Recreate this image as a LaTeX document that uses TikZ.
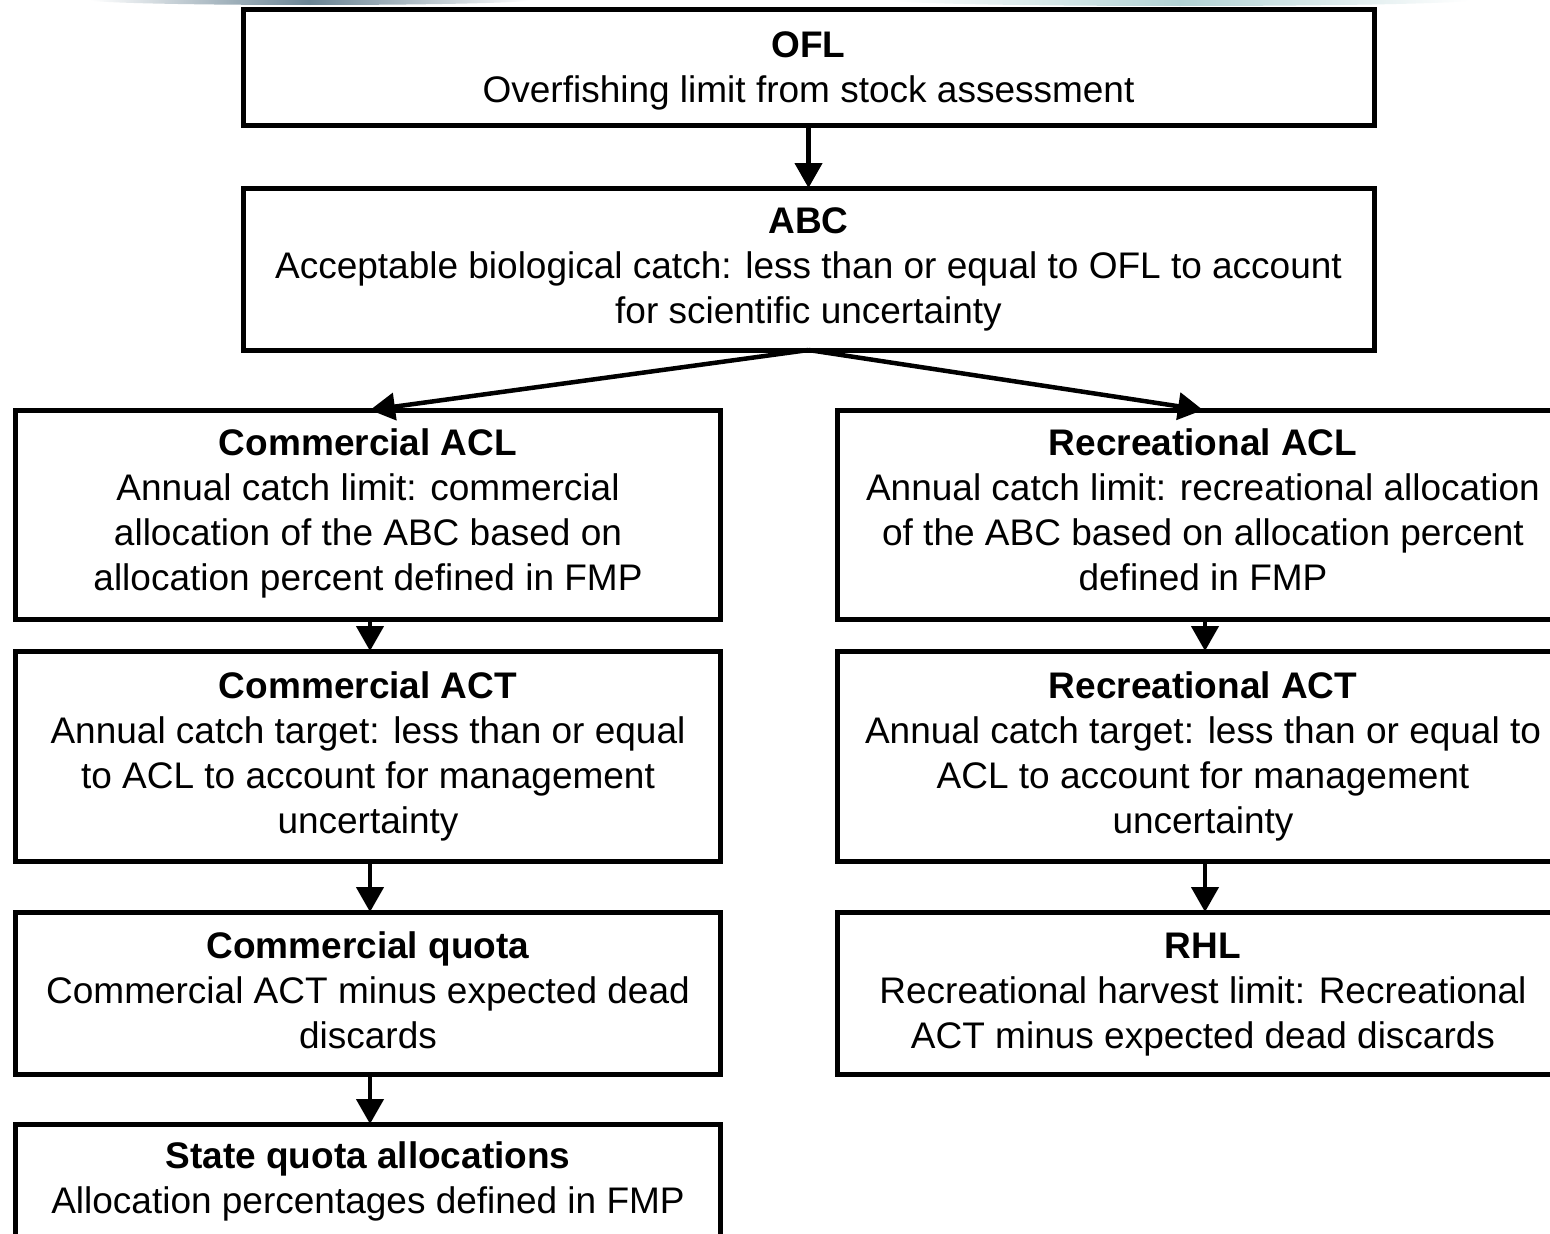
\documentclass[tikz,border=0pt]{standalone}
\usepackage{fontspec}
\setmainfont{Liberation Sans}
\usetikzlibrary{arrows.meta}

\definecolor{bandslate}{HTML}{6A8494}
\definecolor{bandteal}{HTML}{B2D2D4}

\tikzset{
  box/.style={draw=black, line width=5pt, fill=white, rectangle},
  boxtext/.style={align=center, inner sep=0pt, anchor=north,
    font=\fontsize{37}{45}\selectfont},
  flow/.style={line width=4.5pt, -{Triangle[length=25pt, width=27pt]}},
}

\begin{document}
\begin{tikzpicture}[x=1pt, y=-1pt]
  % page frame
  \useasboundingbox (0,0) rectangle (1550,1234);
  \fill[white] (0,0) rectangle (1550,1234);

  % soft header bands along the top edge
  \begin{scope}
    \clip (310,0) ellipse [x radius=220, y radius=5];
    \shade[left color=white, right color=white, middle color=bandslate] (90,-6) rectangle (530,6);
  \end{scope}
  \begin{scope}
    \clip (1180,0) ellipse [x radius=290, y radius=6];
    \shade[left color=white, right color=white, middle color=bandteal] (890,-6) rectangle (1470,7);
  \end{scope}

  % boxes (border centre lines)
  \draw[box] (243,9) rectangle (1374,125);
  \draw[box] (243,188) rectangle (1374,350);
  \draw[box] (15,410) rectangle (720,619);
  \draw[box] (837,410) rectangle (1575,619);
  \draw[box] (15,651) rectangle (720,861);
  \draw[box] (837,651) rectangle (1575,861);
  \draw[box] (15,912) rectangle (720,1074);
  \draw[box] (837,912) rectangle (1575,1074);
  \draw[box] (15,1124) rectangle (720,1290);

  % anchor points for connectors
  \coordinate (ofl-s) at (808.5,125);
  \coordinate (abc-n) at (808.5,188);
  \coordinate (abc-s) at (808.5,350);
  \coordinate (cacl-n) at (370,410);
  \coordinate (racl-n) at (1203,410);
  \coordinate (cacl-s) at (370,619);
  \coordinate (cact-n) at (370,651);
  \coordinate (racl-s) at (1205,619);
  \coordinate (ract-n) at (1205,651);
  \coordinate (cact-s) at (370,861);
  \coordinate (cq-n) at (370,912);
  \coordinate (ract-s) at (1205,861);
  \coordinate (rhl-n) at (1205,912);
  \coordinate (cq-s) at (370,1074);
  \coordinate (sq-n) at (370,1124);

  % texts (first line carries a strut so every block starts alike)
  \node[boxtext] (ofl) at (808.5,25.5) {\strut\textbf{OFL}\\Overfishing limit from stock assessment};
  \node[boxtext] (abc) at (808.5,201.5) {\strut\textbf{ABC}\\Acceptable biological catch: less than or equal to OFL to account\\for scientific uncertainty};
  \node[boxtext] (cacl) at (368,423.5) {\strut\textbf{Commercial ACL}\\Annual catch limit: commercial\\allocation of the ABC based on\\allocation percent defined in FMP};
  \node[boxtext] (racl) at (1203,423.5) {\strut\textbf{Recreational ACL}\\Annual catch limit: recreational allocation\\of the ABC based on allocation percent\\defined in FMP};
  \node[boxtext] (cact) at (368,666.5) {\strut\textbf{Commercial ACT}\\Annual catch target: less than or equal\\to ACL to account for management\\uncertainty};
  \node[boxtext] (ract) at (1203,666.5) {\strut\textbf{Recreational ACT}\\Annual catch target: less than or equal to\\ACL to account for management\\uncertainty};
  \node[boxtext] (cq) at (368,926.5) {\strut\textbf{Commercial quota}\\Commercial ACT minus expected dead\\discards};
  \node[boxtext] (rhl) at (1203,926.5) {\strut\textbf{RHL}\\Recreational harvest limit: Recreational\\ACT minus expected dead discards};
  \node[boxtext] (sq) at (368,1136.5) {\strut\textbf{State quota allocations}\\Allocation percentages defined in FMP};

  % connectors
  \draw[flow] (ofl-s) -- (abc-n);
  \draw[flow] (abc-s) -- (cacl-n);
  \draw[flow] (abc-s) -- (racl-n);
  \draw[flow] (cacl-s) -- (cact-n);
  \draw[flow] (racl-s) -- (ract-n);
  \draw[flow] (cact-s) -- (cq-n);
  \draw[flow] (ract-s) -- (rhl-n);
  \draw[flow] (cq-s) -- (sq-n);
\end{tikzpicture}
\end{document}
